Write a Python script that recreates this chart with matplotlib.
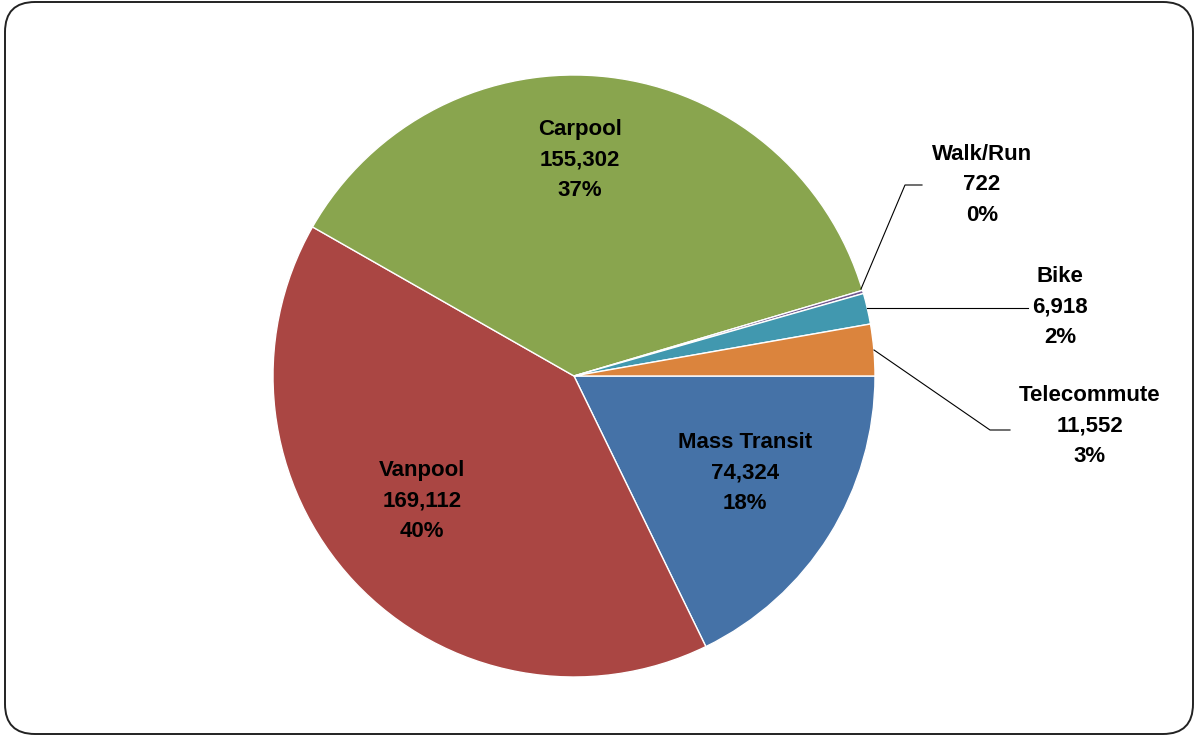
import matplotlib.pyplot as plt
from matplotlib.patches import FancyBboxPatch

plt.rcParams['font.family'] = ['Liberation Sans', 'DejaVu Sans']

modes = ['Mass Transit', 'Vanpool', 'Carpool', 'Walk/Run', 'Bike', 'Telecommute']
trips = [74324, 169112, 155302, 722, 6918, 11552]
colors = ['#4572A7', '#AA4643', '#89A54E', '#71588F', '#4198AF', '#DB843D']

# label centres in pixel space (y measured from top)
label_pos = {
    'Mass Transit': (745, 473),
    'Vanpool': (422, 501),
    'Carpool': (580, 160),
    'Walk/Run': (982, 185),
    'Bike': (1060, 307),
    'Telecommute': (1090, 426),
}

W, H = 1198, 736
fig = plt.figure(figsize=(W / 100, H / 100), dpi=100)
ax = fig.add_axes([0, 0, 1, 1])

# rounded outer frame
frame = FancyBboxPatch((5, 2), W - 10, H - 4,
                       boxstyle='round,pad=0,rounding_size=30',
                       facecolor='white', edgecolor='#222222', linewidth=1.4)
ax.add_patch(frame)

ax.pie(trips, colors=colors, startangle=0, counterclock=False,
       center=(574, H - 376), radius=301, frame=True,
       wedgeprops=dict(edgecolor='white', linewidth=1.0))
ax.set_xlim(0, W)
ax.set_ylim(0, H)
ax.set_aspect('equal')
ax.axis('off')

total = sum(trips)
for name, val in zip(modes, trips):
    x, y = label_pos[name]
    txt = f'{name}\n{val:,}\n{round(100 * val / total):.0f}%'
    ax.text(x, H - y, txt, ha='center', va='center', fontsize=16,
            fontweight='bold', linespacing=1.6, color='black')

# leader lines for the small slices
leaders = [
    [(861, 289), (905, 185), (922, 185)],
    [(867, 308), (1028, 308)],
    [(874, 350), (990, 430), (1010, 430)],
]
for pts in leaders:
    xs = [p[0] for p in pts]
    ys = [H - p[1] for p in pts]
    ax.plot(xs, ys, color='black', linewidth=0.8)

fig.savefig('out.png', dpi=100)
